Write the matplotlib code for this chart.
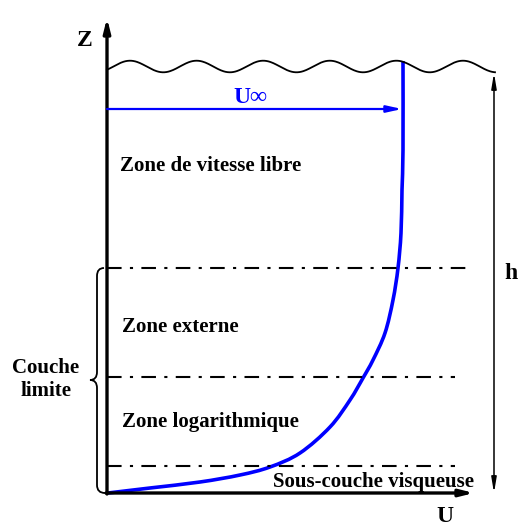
import numpy as np
import matplotlib
matplotlib.use("Agg")
import matplotlib.pyplot as plt
from matplotlib.path import Path
from matplotlib.patches import PathPatch

# ---- data (pixel-space schematic coordinates) ----
profile_u = [108, 150, 200, 240, 270, 300, 330, 350, 363, 373, 385, 393, 398, 401, 402, 403, 403]
profile_z = [493, 488, 482, 475, 467, 453, 427, 400, 378, 360, 333, 300, 268, 233, 190, 150, 61]
layer_z = [268, 377, 466]
layer_xend = [467, 455, 455]
zone_labels = ["Zone de vitesse libre", "Zone externe", "Zone logarithmique", "Sous-couche visqueuse"]
zone_label_x = [120, 122, 122, 273]
zone_label_base = [171, 332, 427, 487]
wave_mean, wave_amp, wave_period, wave_peak = 66.5, 5.8, 66.6, 130.0

W, H = 520, 527
fig = plt.figure(figsize=(W / 100, H / 100), dpi=100)
ax = fig.add_axes([0, 0, 1, 1])
ax.set_xlim(0, W)
ax.set_ylim(H, 0)
ax.axis("off")

FONT = "Liberation Serif"
blue = "#0000ff"


def smooth_path(xs, ys):
    pts = np.column_stack([xs, ys]).astype(float)
    n = len(pts)
    verts = [tuple(pts[0])]
    codes = [Path.MOVETO]
    for i in range(n - 1):
        p0 = pts[max(i - 1, 0)]
        p1 = pts[i]
        p2 = pts[i + 1]
        p3 = pts[min(i + 2, n - 1)]
        c1 = p1 + (p2 - p0) / 6.0
        c2 = p2 - (p3 - p1) / 6.0
        verts += [tuple(c1), tuple(c2), tuple(p2)]
        codes += [Path.CURVE4] * 3
    return Path(verts, codes)


# axes arrows
ax.annotate("", xy=(107, 18), xytext=(107, 494),
            arrowprops=dict(arrowstyle="-|>,head_length=0.8,head_width=0.2", lw=2.4, color="black",
                            shrinkA=0, shrinkB=0))
ax.annotate("", xy=(474, 493), xytext=(106, 493),
            arrowprops=dict(arrowstyle="-|>,head_length=0.8,head_width=0.2", lw=2.4, color="black",
                            shrinkA=0, shrinkB=0))
ax.text(85, 46, "Z", fontsize=17, fontweight="bold", family=FONT, ha="center", va="baseline")
ax.text(445, 522, "U", fontsize=17, fontweight="bold", family=FONT, ha="center", va="baseline")

# wavy surface
xw = np.linspace(107, 495, 400)
yw = wave_mean - wave_amp * np.cos(2 * np.pi * (xw - wave_peak) / wave_period)
ax.plot(xw, yw, color="black", lw=1.3)

# h arrow
ax.annotate("", xy=(494, 493), xytext=(494, 73),
            arrowprops=dict(arrowstyle="<|-|>,head_length=0.9,head_width=0.15", lw=1.1, color="black",
                            shrinkA=0, shrinkB=0))
ax.text(511, 279, "h", fontsize=17, fontweight="bold", family=FONT, ha="center", va="baseline")

# dash-dot layer lines
for z, xe in zip(layer_z, layer_xend):
    ax.plot([107, xe], [z, z], color="black", lw=1.5, linestyle=(0, (7, 4, 1.5, 4)))

# velocity profile (smooth curve through the read points)
ax.add_patch(PathPatch(smooth_path(profile_u, profile_z), fill=False, lw=2.6, edgecolor=blue,
                       capstyle="butt"))

# U-infinity arrow
ax.annotate("", xy=(402, 109), xytext=(107, 109),
            arrowprops=dict(arrowstyle="-|>,head_length=0.9,head_width=0.2", lw=1.6, color=blue,
                            shrinkA=0, shrinkB=0))
ax.text(250, 103, "U∞", fontsize=17, fontweight="bold", family=[FONT, "DejaVu Serif"], color=blue,
        ha="center", va="baseline")

# zone labels
for lab, x, zb in zip(zone_labels, zone_label_x, zone_label_base):
    ax.text(x, zb, lab, fontsize=15, fontweight="bold", family=FONT, ha="left", va="baseline")

# brace for "Couche limite"
verts = [(104, 268), (97, 268), (97, 276),
         (97, 372),
         (97, 380), (90, 380),
         (97, 380), (97, 388),
         (97, 485),
         (97, 493), (105, 493)]
codes = [Path.MOVETO, Path.CURVE3, Path.CURVE3,
         Path.LINETO,
         Path.CURVE3, Path.CURVE3,
         Path.CURVE3, Path.CURVE3,
         Path.LINETO,
         Path.CURVE3, Path.CURVE3]
ax.add_patch(PathPatch(Path(verts, codes), fill=False, lw=1.3, edgecolor="black"))
ax.text(46, 373, "Couche", fontsize=15, fontweight="bold", family=FONT, ha="center", va="baseline")
ax.text(46, 396, "limite", fontsize=15, fontweight="bold", family=FONT, ha="center", va="baseline")

fig.savefig("out.png", dpi=100)
